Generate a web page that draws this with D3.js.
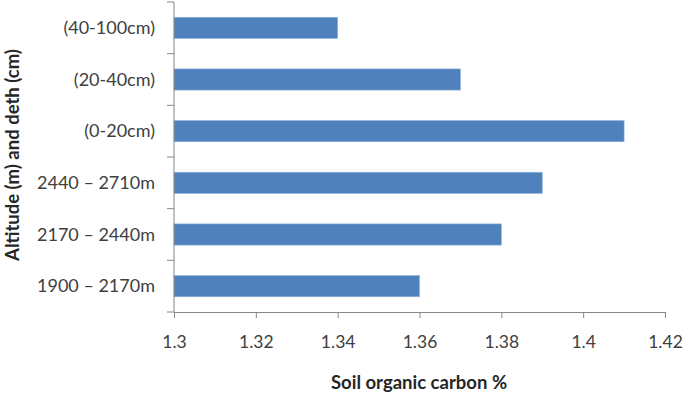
<!DOCTYPE html>
<html>
<head>
<meta charset="utf-8">
<script src="https://cdn.jsdelivr.net/npm/d3@7"></script>
<style>
  body { margin: 0; background: #fff; }
  text { font-family: Lato, "Open Sans", sans-serif; }
</style>
</head>
<body>
<div id="chart"></div>
<script>
// chart values, bottom to top as in the picture
const categories = ["1900 – 2170m", "2170 – 2440m", "2440 – 2710m", "(0-20cm)", "(20-40cm)", "(40-100cm)"];
const carbon = [1.36, 1.38, 1.39, 1.41, 1.37, 1.34];
const xTicks = [1.3, 1.32, 1.34, 1.36, 1.38, 1.4, 1.42];

let width = 685,
    height = 396,
    margin = ({ top: 2, right: 20, bottom: 84, left: 174 });

const svg = d3.select("#chart")
  .append("svg")
  .attr("width", width)
  .attr("height", height);

// x scale: 1.3 to 1.42
let x = d3.scaleLinear()
  .domain([1.3, 1.42])
  .range([margin.left, 665]);

// y scale: one band per category, first category at the bottom
let y = d3.scaleBand()
  .domain(categories)
  .range([height - margin.bottom, margin.top])
  .padding(0);

const barH = y.bandwidth() * 0.41;

// bars
svg.append("g")
  .attr("fill", "#4f81bd")
  .selectAll("rect")
  .data(categories)
  .join("rect")
  .attr("x", x(1.3))
  .attr("y", d => y(d) + (y.bandwidth() - barH) / 2)
  .attr("width", (d, i) => x(carbon[i]) - x(1.3))
  .attr("height", barH)
  .attr("stroke", "#8fb0da")
  .attr("stroke-width", 0.6);

// x axis
const xAxis = svg.append("g")
  .attr("transform", `translate(0,${height - margin.bottom})`)
  .call(d3.axisBottom(x).tickValues(xTicks).tickFormat(d => d3.format("~g")(d)).tickSizeOuter(0).tickSize(6).tickPadding(18));

// y axis, ticks sit on category boundaries
const bounds = categories.map(d => y(d)).concat([y(categories[0]) + y.bandwidth()]);
const yAxis = svg.append("g")
  .attr("transform", `translate(${margin.left},0)`);
yAxis.append("line")
  .attr("x1", 0).attr("x2", 0)
  .attr("y1", margin.top).attr("y2", height - margin.bottom);
yAxis.selectAll(".tk")
  .data(bounds)
  .join("line")
  .attr("class", "tk")
  .attr("x1", -7).attr("x2", 0)
  .attr("y1", d => d).attr("y2", d => d);
yAxis.selectAll("text")
  .data(categories)
  .join("text")
  .attr("x", -19)
  .attr("y", d => y(d) + y.bandwidth() / 2)
  .attr("dy", "0.35em")
  .attr("text-anchor", "end")
  .attr("font-size", 18)
  .attr("fill", "#404040")
  .text(d => d);

// axis styling
svg.selectAll(".domain, .tick line, .tk, g line").attr("stroke", "#868686").attr("stroke-width", 1);
xAxis.selectAll("text").attr("font-size", 17.5).attr("fill", "#404040").attr("font-family", "Lato, 'Open Sans', sans-serif");

// axis titles
svg.append("text")
  .attr("x", 419)
  .attr("y", 389)
  .attr("text-anchor", "middle")
  .attr("font-size", 18.5)
  .attr("font-weight", "bold")
  .attr("fill", "#262626")
  .text("Soil organic carbon %");

svg.append("text")
  .attr("transform", "translate(19,155) rotate(-90)")
  .attr("text-anchor", "middle")
  .attr("font-size", 18.5)
  .attr("font-weight", "bold")
  .attr("fill", "#262626")
  .text("Altitude (m) and deth (cm)");
</script>
</body>
</html>
